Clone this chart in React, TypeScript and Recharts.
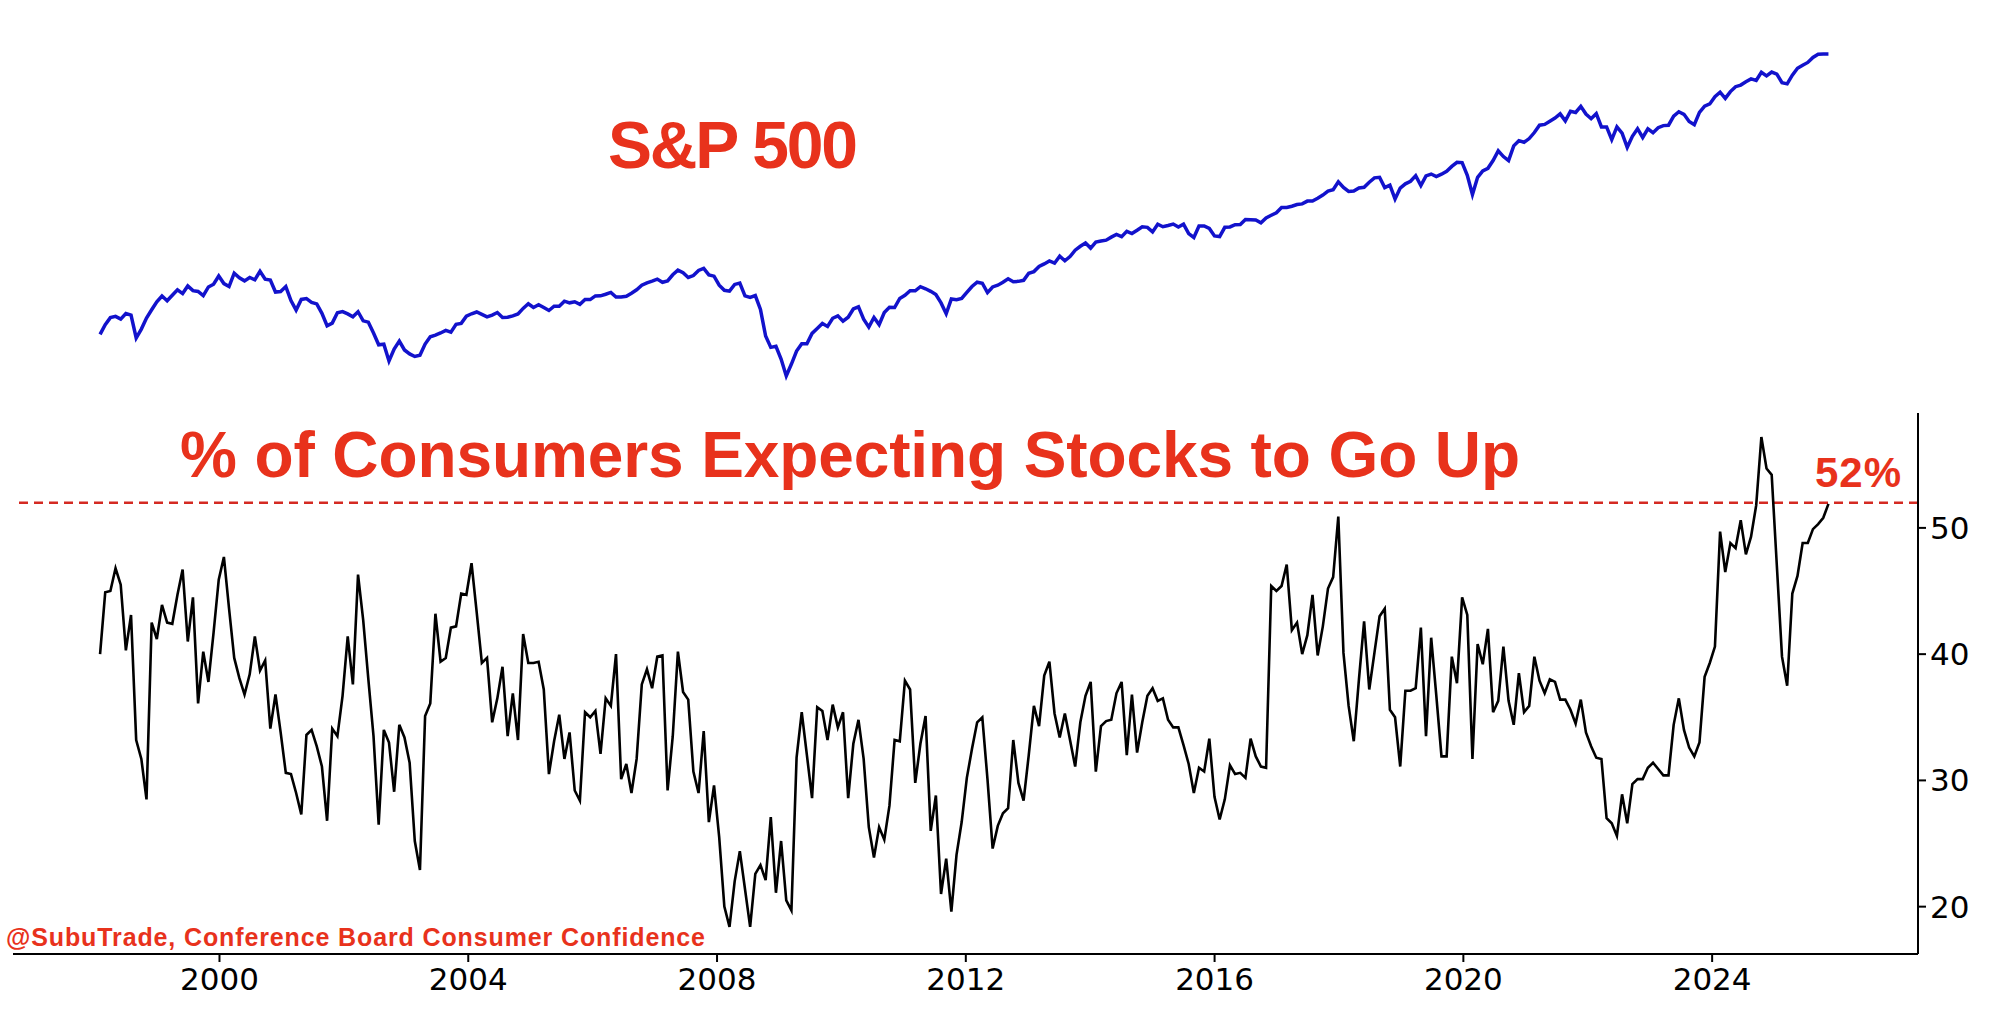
import React from "react";
import { LineChart, Line, XAxis, YAxis, ReferenceLine } from "recharts";

// % of consumers expecting stocks to go up (monthly, from Feb 1998)
const consumerPct: number[] = [
  40.0, 44.9, 45.0, 46.8, 45.5, 40.3, 43.1, 33.2, 31.7, 28.5, 42.5, 41.2, 43.9, 42.5, 42.4, 44.7,
  46.7, 41.0, 44.5, 36.1, 40.2, 37.8, 41.7, 45.9, 47.7, 43.6, 39.7, 38.1, 36.8, 38.4, 41.4, 38.7,
  39.5, 34.1, 36.8, 33.8, 30.6, 30.5, 29.0, 27.3, 33.6, 34.0, 32.7, 31.1, 26.8, 34.1, 33.5, 36.7,
  41.4, 37.6, 46.3, 42.7, 38.0, 33.5, 26.5, 34.0, 33.0, 29.1, 34.4, 33.4, 31.4, 25.2, 22.9, 35.1,
  36.1, 43.2, 39.4, 39.7, 42.1, 42.2, 44.8, 44.7, 47.2, 43.3, 39.3, 39.7, 34.6, 36.5, 39.0, 33.5,
  36.9, 33.2, 41.6, 39.3, 39.3, 39.4, 37.2, 30.5, 33.1, 35.2, 31.7, 33.8, 29.2, 28.4, 35.4,
  35.0, 35.5, 32.1, 36.5, 35.9, 40.0, 30.1, 31.3, 29.0, 31.7, 37.6, 38.8, 37.3, 39.8, 39.9, 29.2,
  33.5, 40.2, 37.0, 36.4, 30.7, 29.0, 33.9, 26.7, 29.6, 25.5, 20.0, 18.4, 22.0, 24.4, 21.4, 18.4,
  22.6, 23.3, 22.1, 27.1, 21.1, 25.2, 20.5, 19.7, 31.8, 35.4, 32.0, 28.6, 35.8, 35.5, 33.2, 36.0,
  34.2, 35.4, 28.6, 32.9, 34.8, 31.7, 26.3, 23.9, 26.3, 25.3, 28.0, 33.2, 33.1, 37.9, 37.2, 29.8,
  32.9, 35.1, 26.0, 28.8, 21.0, 23.8, 19.6, 24.1, 26.7, 30.2, 32.5, 34.6, 35.0, 30.1, 24.6, 26.4,
  27.4, 27.8, 33.2, 29.8, 28.4, 32.0, 35.9, 34.3, 38.3, 39.4, 35.3, 33.4, 35.3, 33.2, 31.1,
  34.6, 36.7, 37.8, 30.7, 34.3, 34.7, 34.8, 36.9, 37.8, 32.0, 36.8, 32.2, 34.6, 36.7, 37.3, 36.3,
  36.5, 34.8, 34.2, 34.2, 32.8, 31.3, 29.0, 31.0, 30.7, 33.3, 28.7, 26.9, 28.5, 31.2, 30.5, 30.6,
  30.2, 33.3, 31.9, 31.1, 31.0, 45.4, 45.0, 45.4, 47.1, 41.9, 42.5, 40.0, 41.5, 44.7, 39.9, 42.2,
  45.2, 46.1, 50.9, 40.1, 35.9, 33.1, 38.0, 42.6, 37.2, 40.1, 43.0, 43.6, 35.6, 35.0, 31.1, 37.1,
  37.1, 37.3, 42.1, 33.5, 41.3, 36.7, 31.9, 31.9, 39.8, 37.7, 44.5, 43.1, 31.7, 40.8, 39.2, 42.0,
  35.4, 36.3, 40.6, 36.3, 34.4, 38.5, 35.4, 35.9, 39.8, 37.9, 36.9, 38.0, 37.8, 36.4, 36.4,
  35.6, 34.5, 36.4, 33.8, 32.7, 31.8, 31.7, 27.0, 26.6, 25.6, 28.9, 26.6, 29.7, 30.1, 30.1, 31.0,
  31.4, 30.9, 30.4, 30.4, 34.4, 36.5, 34.0, 32.6, 31.9, 33.0, 38.2, 39.3, 40.6, 49.7, 46.5, 48.8,
  48.4, 50.6, 47.9, 49.3, 51.8, 57.2, 54.7, 54.2, 47.0, 39.8, 37.5, 44.8, 46.2, 48.8, 48.8, 49.9,
  50.3, 50.8, 51.9,
];

// S&P 500 monthly closes, Jan 1998 – Nov 2025
const spx: number[] = [
  980, 1049, 1101, 1111, 1090, 1133, 1120, 956, 1017, 1098, 1163, 1229,
  1279, 1238, 1286, 1335, 1301, 1372, 1328, 1320, 1283, 1362, 1388, 1469,
  1394, 1366, 1499, 1452, 1421, 1455, 1431, 1518, 1437, 1429, 1315, 1320,
  1366, 1240, 1160, 1249, 1256, 1224, 1211, 1134, 1041, 1060, 1139, 1148,
  1130, 1107, 1147, 1077, 1067, 990, 912, 916, 815, 886, 936, 880,
  856, 841, 848, 917, 964, 975, 990, 1008, 996, 1051, 1058, 1112,
  1131, 1145, 1126, 1107, 1121, 1141, 1102, 1104, 1115, 1130, 1174, 1212,
  1181, 1204, 1181, 1157, 1192, 1191, 1234, 1220, 1229, 1207, 1249, 1248,
  1280, 1281, 1295, 1311, 1270, 1270, 1277, 1304, 1336, 1378, 1401, 1418,
  1438, 1407, 1421, 1482, 1531, 1503, 1455, 1474, 1527, 1549, 1481, 1468,
  1379, 1331, 1323, 1386, 1400, 1280, 1267, 1283, 1166, 969, 896, 903,
  826, 735, 798, 873, 919, 919, 987, 1021, 1057, 1036, 1096, 1115,
  1074, 1104, 1169, 1187, 1089, 1031, 1102, 1049, 1141, 1183, 1181, 1258,
  1286, 1327, 1326, 1364, 1345, 1321, 1292, 1219, 1131, 1253, 1247, 1258,
  1312, 1366, 1408, 1398, 1310, 1362, 1379, 1407, 1441, 1412, 1416, 1426,
  1498, 1515, 1569, 1598, 1631, 1606, 1686, 1633, 1682, 1757, 1806, 1848,
  1783, 1859, 1872, 1884, 1924, 1960, 1931, 2003, 1972, 2018, 2068, 2059,
  1995, 2105, 2068, 2086, 2107, 2063, 2104, 1972, 1920, 2079, 2080, 2044,
  1940, 1932, 2060, 2065, 2097, 2099, 2174, 2171, 2168, 2126, 2199, 2239,
  2279, 2364, 2363, 2384, 2412, 2423, 2470, 2472, 2519, 2575, 2648, 2674,
  2824, 2714, 2641, 2648, 2705, 2718, 2816, 2902, 2914, 2712, 2760, 2507,
  2704, 2784, 2834, 2946, 2752, 2942, 2980, 2926, 2977, 3038, 3141, 3231,
  3226, 2954, 2585, 2912, 3044, 3100, 3271, 3500, 3363, 3270, 3622, 3756,
  3714, 3811, 3973, 4181, 4204, 4298, 4395, 4523, 4308, 4605, 4567, 4766,
  4516, 4374, 4530, 4132, 4132, 3785, 4130, 3955, 3586, 3872, 4080, 3840,
  4077, 3970, 4109, 4169, 4180, 4450, 4589, 4508, 4288, 4194, 4568, 4770,
  4846, 5096, 5254, 5036, 5278, 5460, 5522, 5648, 5762, 5705, 6032, 5882,
  6041, 5955, 5612, 5569, 5912, 6205, 6339, 6460, 6688, 6840, 6850, 6850,
];

const yearTicks = [2000, 2004, 2008, 2012, 2016, 2020, 2024];
const pctTicks = [20, 30, 40, 50];
const START = 1998.08;
const END = 2025.87;
const X_DOMAIN: [number, number] = [1996.68, 2027.31];

const consumerData = consumerPct.map((v, i) => ({
  t: START + (i * (END - START)) / (consumerPct.length - 1),
  v,
}));
const spxData = spx.map((v, i) => ({
  t: START + (i * (END - START)) / (spx.length - 1),
  v,
}));

const RED = "#e8321c";

export default function App() {
  return (
    <div style={{ position: "absolute", left: 0, top: 0, width: 2000, height: 1031, background: "#fff" }}>
      <div style={{ position: "absolute", left: 0, top: 0 }}>
        <LineChart width={2000} height={420} data={spxData} margin={{ top: 20, right: 82, bottom: 20, left: 13 }}>
          <XAxis dataKey="t" type="number" domain={X_DOMAIN} hide />
          <YAxis scale="log" domain={[622, 8670]} allowDataOverflow hide />
          <Line dataKey="v" stroke="#1212cc" strokeWidth={3.5} dot={false} isAnimationActive={false} />
        </LineChart>
      </div>
      <div style={{ position: "absolute", left: 0, top: 400 }}>
        <LineChart width={2000} height={631} data={consumerData} margin={{ top: 13, right: 0, bottom: 0, left: 13 }}>
          <XAxis
            dataKey="t"
            type="number"
            domain={X_DOMAIN}
            ticks={yearTicks}
            height={77}
            stroke="#000"
            strokeWidth={2}
            tickSize={8}
            tick={{ fill: "#000", fontSize: 31, fontFamily: "DejaVu Sans" }}
            tickMargin={6}
          />
          <YAxis
            orientation="right"
            width={82}
            domain={[16.25, 59.1]}
            ticks={pctTicks}
            allowDataOverflow
            stroke="#000"
            strokeWidth={2}
            tickSize={8}
            tick={{ fill: "#000", fontSize: 31, fontFamily: "DejaVu Sans", textAnchor: "start" }}
            tickMargin={4}
          />
          <ReferenceLine y={52} stroke="#d42a22" strokeWidth={2.5} strokeDasharray="9 6" />
          <Line dataKey="v" stroke="#000" strokeWidth={2.6} dot={false} isAnimationActive={false} />
        </LineChart>
      </div>
      <svg width={2000} height={1031} style={{ position: "absolute", left: 0, top: 0, pointerEvents: "none" }}>
        <text x={733} y={168} textAnchor="middle" fill={RED} fontSize={66} fontWeight="bold" fontFamily="Liberation Sans, Arial" textLength={250}>
          S&amp;P 500
        </text>
        <text x={180} y={477} fill={RED} fontSize={64} fontWeight="bold" fontFamily="Liberation Sans, Arial" textLength={1340}>
          % of Consumers Expecting Stocks to Go Up
        </text>
        <text x={1815} y={487} fill={RED} fontSize={42} fontWeight="bold" fontFamily="Liberation Sans, Arial" textLength={86}>
          52%
        </text>
        <text x={6} y={946} fill={RED} fontSize={25} fontWeight="bold" fontFamily="Liberation Sans, Arial" textLength={699}>
          @SubuTrade, Conference Board Consumer Confidence
        </text>
      </svg>
    </div>
  );
}
